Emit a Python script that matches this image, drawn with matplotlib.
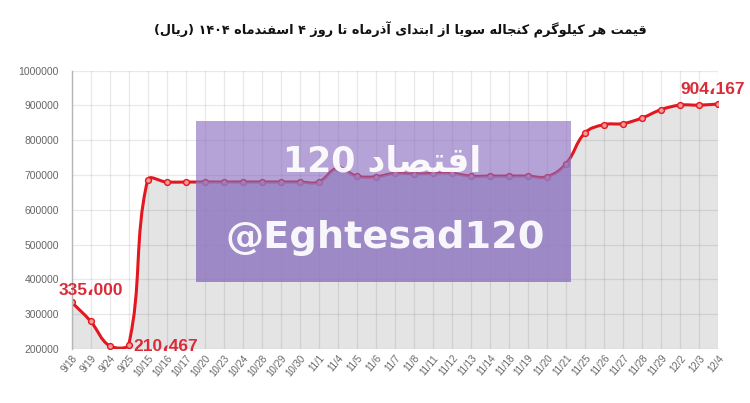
import matplotlib
matplotlib.use('Agg')
import matplotlib.pyplot as plt
import numpy as np
from matplotlib.path import Path
from matplotlib.patches import PathPatch, Rectangle

# ---------------- data ----------------
labels = ['9/18', '9/19', '9/24', '9/25', '10/15', '10/16', '10/17', '10/20', '10/23',
          '10/24', '10/28', '10/29', '10/30', '11/1', '11/4', '11/5', '11/6', '11/7',
          '11/8', '11/11', '11/12', '11/13', '11/14', '11/18', '11/19', '11/20', '11/21',
          '11/25', '11/26', '11/27', '11/28', '11/29', '12/2', '12/3', '12/4']
values = [335000, 280000, 209000, 210467, 685000, 680000, 680000, 680000, 680000,
          680000, 680000, 680000, 680000, 680000, 720000, 697000, 695000, 705000,
          703000, 705000, 705000, 697000, 697000, 697000, 697000, 695000, 732000,
          821000, 845000, 848000, 864000, 888000, 901000, 901000, 904167]
yticks = [200000, 300000, 400000, 500000, 600000, 700000, 800000, 900000, 1000000]
point_labels = {0: "335،000", 3: "210،467", 34: "904،167"}
title_text = "قیمت هر کیلوگرم کنجاله سویا از ابتدای آذرماه تا روز ۴ اسفندماه ۱۴۰۴ (ریال)"
watermark_fa = "اقتصاد 120"
watermark_en = "@Eghtesad120"

# ---------------- minimal Arabic/Persian shaping for display ----------------
FORMS = {  # isolated, final, initial, medial
    'ا': ('\uFE8D', '\uFE8E', None, None),
    'آ': ('\uFE81', '\uFE82', None, None),
    'ب': ('\uFE8F', '\uFE90', '\uFE91', '\uFE92'),
    'ت': ('\uFE95', '\uFE96', '\uFE97', '\uFE98'),
    'ج': ('\uFE9D', '\uFE9E', '\uFE9F', '\uFEA0'),
    'د': ('\uFEA9', '\uFEAA', None, None),
    'ذ': ('\uFEAB', '\uFEAC', None, None),
    'ر': ('\uFEAD', '\uFEAE', None, None),
    'ز': ('\uFEAF', '\uFEB0', None, None),
    'س': ('\uFEB1', '\uFEB2', '\uFEB3', '\uFEB4'),
    'ص': ('\uFEB9', '\uFEBA', '\uFEBB', '\uFEBC'),
    'ف': ('\uFED1', '\uFED2', '\uFED3', '\uFED4'),
    'ق': ('\uFED5', '\uFED6', '\uFED7', '\uFED8'),
    'ل': ('\uFEDD', '\uFEDE', '\uFEDF', '\uFEE0'),
    'م': ('\uFEE1', '\uFEE2', '\uFEE3', '\uFEE4'),
    'ن': ('\uFEE5', '\uFEE6', '\uFEE7', '\uFEE8'),
    'ه': ('\uFEE9', '\uFEEA', '\uFEEB', '\uFEEC'),
    'و': ('\uFEED', '\uFEEE', None, None),
    'ی': ('\uFBFC', '\uFBFD', '\uFBFE', '\uFBFF'),
    'ک': ('\uFB8E', '\uFB8F', '\uFB90', '\uFB91'),
    'گ': ('\uFB92', '\uFB93', '\uFB94', '\uFB95'),
}


def _dual(ch):
    return ch in FORMS and FORMS[ch][2] is not None


def shape_token(tok):
    out = []
    for i, ch in enumerate(tok):
        if ch not in FORMS:
            out.append(ch)
            continue
        prev = tok[i - 1] if i > 0 else ''
        nxt = tok[i + 1] if i < len(tok) - 1 else ''
        cp = _dual(prev)
        cn = _dual(ch) and nxt in FORMS
        iso, fin, ini, med = FORMS[ch]
        if cp and cn:
            out.append(med)
        elif cp:
            out.append(fin)
        elif cn:
            out.append(ini)
        else:
            out.append(iso)
    return out


def rtl(text):
    toks = text.split(' ')
    vis = []
    for tok in toks:
        if any(c in FORMS for c in tok):
            chars = shape_token(tok)[::-1]
            chars = [')' if c == '(' else '(' if c == ')' else c for c in chars]
            vis.append(''.join(chars))
        else:
            vis.append(tok)
    return ' '.join(vis[::-1])


# ---------------- figure ----------------
fig = plt.figure(figsize=(7.5, 4.03), dpi=100)
L, R = 71.5 / 750, 718 / 750
T, B = 70.7 / 403, 349 / 403
ax = fig.add_axes([L, 1 - B, R - L, B - T])

x = np.arange(len(labels))
ax.set_xlim(0, len(labels) - 1)
ax.set_ylim(yticks[0], yticks[-1])
ax.set_yticks(yticks)
ax.set_yticklabels([str(v) for v in yticks])
ax.set_xticks(x)
ax.set_xticklabels(labels, rotation=50, ha='right', va='top', rotation_mode='anchor')

ax.tick_params(axis='y', length=0, pad=9, labelsize=7.5, labelcolor='#666666')
ax.tick_params(axis='x', length=0, pad=3, labelsize=7, labelcolor='#666666')
for lab in ax.get_xticklabels() + ax.get_yticklabels():
    lab.set_family(['Liberation Sans', 'DejaVu Sans'])

for s in ['top', 'right', 'bottom']:
    ax.spines[s].set_visible(False)
ax.spines['left'].set_color('#b5b5b5')
ax.spines['left'].set_linewidth(1.0)
ax.spines['left'].set_zorder(5)

ax.grid(True, color='black', alpha=0.085, linewidth=0.9, zorder=2)
ax.set_axisbelow(False)

# spline (Chart.js style, tension 0.4) through the data points via Bezier path
pts = ax.transData.transform(np.column_stack([x, values]))
n = len(pts)
cprev = np.zeros_like(pts)
cnext = np.zeros_like(pts)
t = 0.4
bb = ax.bbox
for i in range(n):
    prev = pts[i - 1] if i > 0 else pts[i]
    cur = pts[i]
    nxt = pts[i + 1] if i < n - 1 else pts[i]
    d01 = np.hypot(*(cur - prev))
    d12 = np.hypot(*(nxt - cur))
    tot = d01 + d12
    s01 = d01 / tot if tot else 0
    s12 = d12 / tot if tot else 0
    cprev[i] = cur - t * s01 * (nxt - prev)
    cnext[i] = cur + t * s12 * (nxt - prev)
for arr in (cprev, cnext):
    arr[:, 0] = np.clip(arr[:, 0], bb.x0, bb.x1)
    arr[:, 1] = np.clip(arr[:, 1], bb.y0, bb.y1)

verts = [pts[0]]
codes = [Path.MOVETO]
for i in range(n - 1):
    verts += [cnext[i], cprev[i + 1], pts[i + 1]]
    codes += [Path.CURVE4] * 3
vdata = ax.transData.inverted().transform(np.array(verts))

fill_verts = np.vstack([vdata, [[x[-1], yticks[0]], [x[0], yticks[0]], [x[0], yticks[0]]]])
fill_codes = codes + [Path.LINETO, Path.LINETO, Path.CLOSEPOLY]
fill_patch = PathPatch(Path(fill_verts, fill_codes), facecolor='#e4e4e4', edgecolor='none', zorder=1)
ax.add_patch(fill_patch)

line_patch = PathPatch(Path(vdata, codes), facecolor='none', edgecolor='#e3171f',
                       linewidth=2.2, zorder=3, capstyle='round', joinstyle='round')
ax.add_patch(line_patch)
ax.plot(x, values, linestyle='none', marker='o', markersize=4.2,
        markerfacecolor='#f29a9a', markeredgecolor='#e3171f', markeredgewidth=1.0, zorder=4)

# data labels
lab_font = dict(family=['Liberation Sans', 'DejaVu Sans'], fontsize=12.5,
                fontweight='bold', color='#d92b38', zorder=8)
ax.annotate(point_labels[0], (x[0], values[0]), xytext=(19, 12), textcoords='offset pixels',
            ha='center', va='center', annotation_clip=False, **lab_font)
ax.annotate(point_labels[3], (x[3], values[3]), xytext=(5, -1), textcoords='offset pixels',
            ha='left', va='center', annotation_clip=False, **lab_font)
ax.annotate(point_labels[34], (x[34], values[34]), xytext=(-5, 15), textcoords='offset pixels',
            ha='center', va='center', annotation_clip=False, **lab_font)

# watermark (semi-transparent purple box, darker where it covers the grey fill)
wx0, wx1 = 196 / 750, 571 / 750
wy0, wy1 = 1 - 281.5 / 403, 1 - 120.7 / 403
wm = Rectangle((wx0, wy0), wx1 - wx0, wy1 - wy0, transform=fig.transFigure,
               facecolor=(133 / 255, 100 / 255, 187 / 255), alpha=0.6, edgecolor='none', zorder=6)
wm.set_clip_on(False)
ax.add_patch(wm)
wm2 = Rectangle((wx0, wy0), wx1 - wx0, wy1 - wy0, transform=fig.transFigure,
                facecolor=(149 / 255, 129 / 255, 194 / 255), alpha=0.6, edgecolor='none', zorder=6.1)
ax.add_patch(wm2)
wm2.set_clip_path(fill_patch)

fig.text(382 / 750, 1 - 161 / 403, rtl(watermark_fa), ha='center', va='center',
         fontsize=25, fontweight='bold', color='white', alpha=0.93,
         family=['DejaVu Sans'], zorder=9)
fig.text(385 / 750, 1 - 238 / 403, watermark_en, ha='center', va='center',
         fontsize=27.5, fontweight='bold', color='white', alpha=0.93,
         family=['DejaVu Sans'], zorder=9)

# title
fig.text(400 / 750, 1 - 30 / 403, rtl(title_text), ha='center', va='center',
         fontsize=9.3, fontweight='bold', color='#111111', family=['DejaVu Sans'])

fig.savefig('out.png', dpi=100)
